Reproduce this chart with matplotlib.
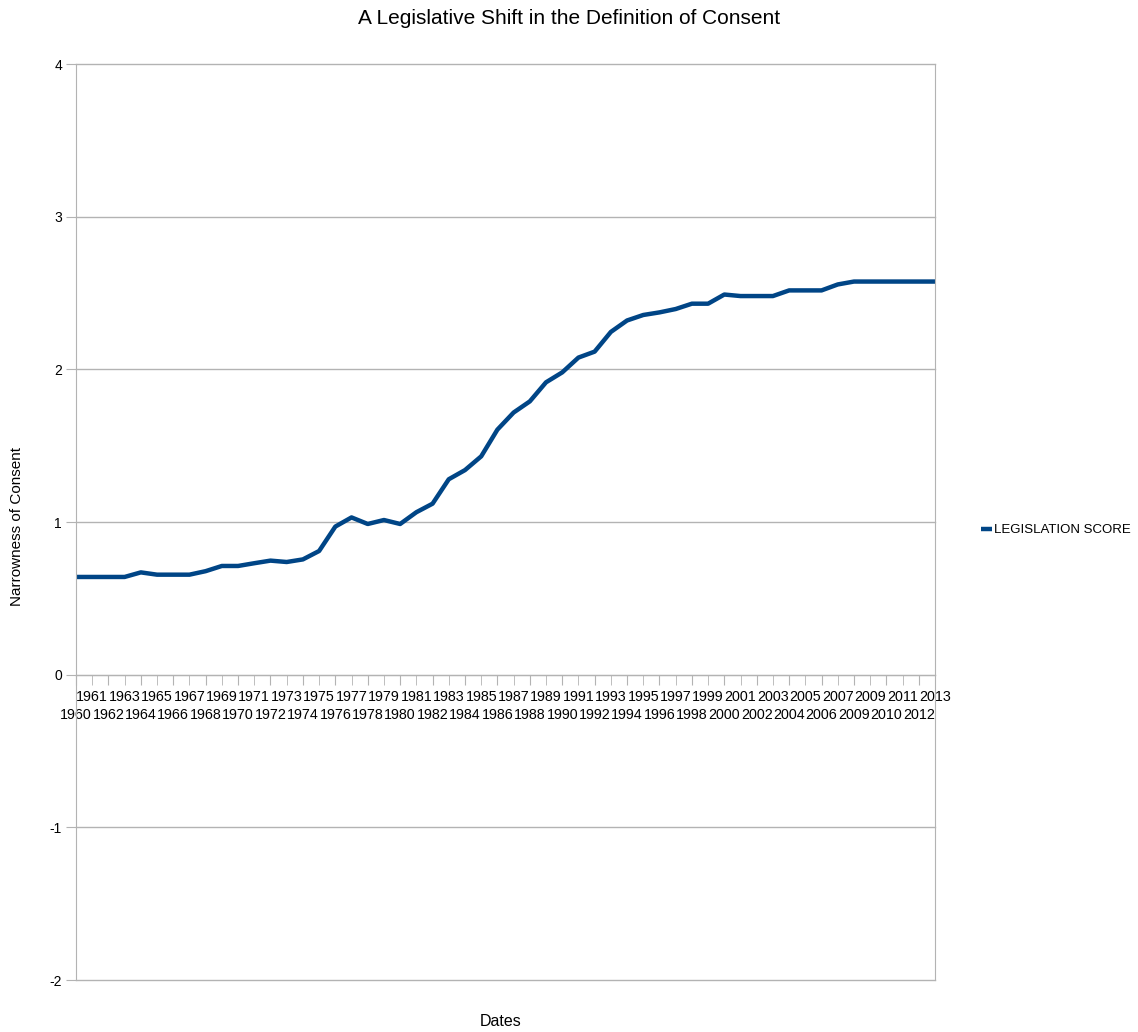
from matplotlib import pyplot as plt

# legislation score per year, 1960-2013
scores = [0.64, 0.64, 0.64, 0.64, 0.67, 0.655, 0.655, 0.655, 0.678, 0.712,
          0.712, 0.73, 0.747, 0.738, 0.755, 0.81, 0.97, 1.03, 0.987, 1.013,
          0.987, 1.064, 1.12, 1.28, 1.34, 1.43, 1.605, 1.717, 1.79, 1.915,
          1.98, 2.077, 2.116, 2.245, 2.32, 2.356, 2.373, 2.395, 2.43, 2.43,
          2.49, 2.48, 2.48, 2.48, 2.517, 2.517, 2.517, 2.556, 2.575, 2.575,
          2.575, 2.575, 2.575, 2.575]
year_labels = [str(y) for y in range(1960, 2008)] + ['2009', '2009', '2010', '2011', '2012', '2013']
y_ticks = [-2, -1, 0, 1, 2, 3, 4]

plt.rcParams['font.family'] = ['Liberation Sans', 'DejaVu Sans']
plt.rcParams['axes.unicode_minus'] = False

fig = plt.figure(figsize=(11.38, 10.32), dpi=100)
ax = fig.add_axes([76/1138, 1 - 980/1032, (935-76)/1138, (980-64)/1032])

x = list(range(len(scores)))
ax.plot(x, scores, c='#004586', lw=3.2, label='LEGISLATION SCORE', solid_capstyle='butt')

ax.set_xlim(0, len(scores) - 1)
ax.set_ylim(-2, 4)
ax.set_yticks(y_ticks)
ax.yaxis.grid(True, color='#b3b3b3', lw=1)
for gl in ax.get_ygridlines():
    gl.set_clip_on(False)
ax.set_axisbelow(True)

# even years on the lower row (major ticks), odd years on the upper row (minor ticks)
ax.set_xticks(x[0::2])
ax.set_xticklabels(year_labels[0::2])
ax.set_xticks(x[1::2], minor=True)
ax.set_xticklabels(year_labels[1::2], minor=True)
ax.spines['bottom'].set_position(('data', 0))
ax.spines['top'].set_visible(False)
for s in ['left', 'right', 'bottom']:
    ax.spines[s].set_color('#b3b3b3')
ax.tick_params(axis='x', which='major', direction='out', length=7, color='#b3b3b3', pad=17, labelsize=10.3)
ax.tick_params(axis='x', which='minor', direction='out', length=7, color='#b3b3b3', pad=4, labelsize=10.3)
ax.tick_params(axis='y', direction='out', length=7, color='#b3b3b3', labelsize=10, pad=3)

fig.text(0.44, 1 - 1022/1032, 'Dates', fontsize=11.5, ha='center', va='center')
fig.text(17/1138, 1 - 527/1032, 'Narrowness of Consent', fontsize=11, rotation=90,
         ha='center', va='center')
fig.suptitle('A Legislative Shift in the Definition of Consent', fontsize=15, y=1 - 18/1032, va='center')

ax.legend(loc='center left', bbox_to_anchor=(976/1138, 1 - 530/1032), bbox_transform=fig.transFigure,
          frameon=False, handlelength=0.8, handletextpad=0.2, fontsize=9.5, borderaxespad=0)

plt.savefig('out.png', dpi=100)
